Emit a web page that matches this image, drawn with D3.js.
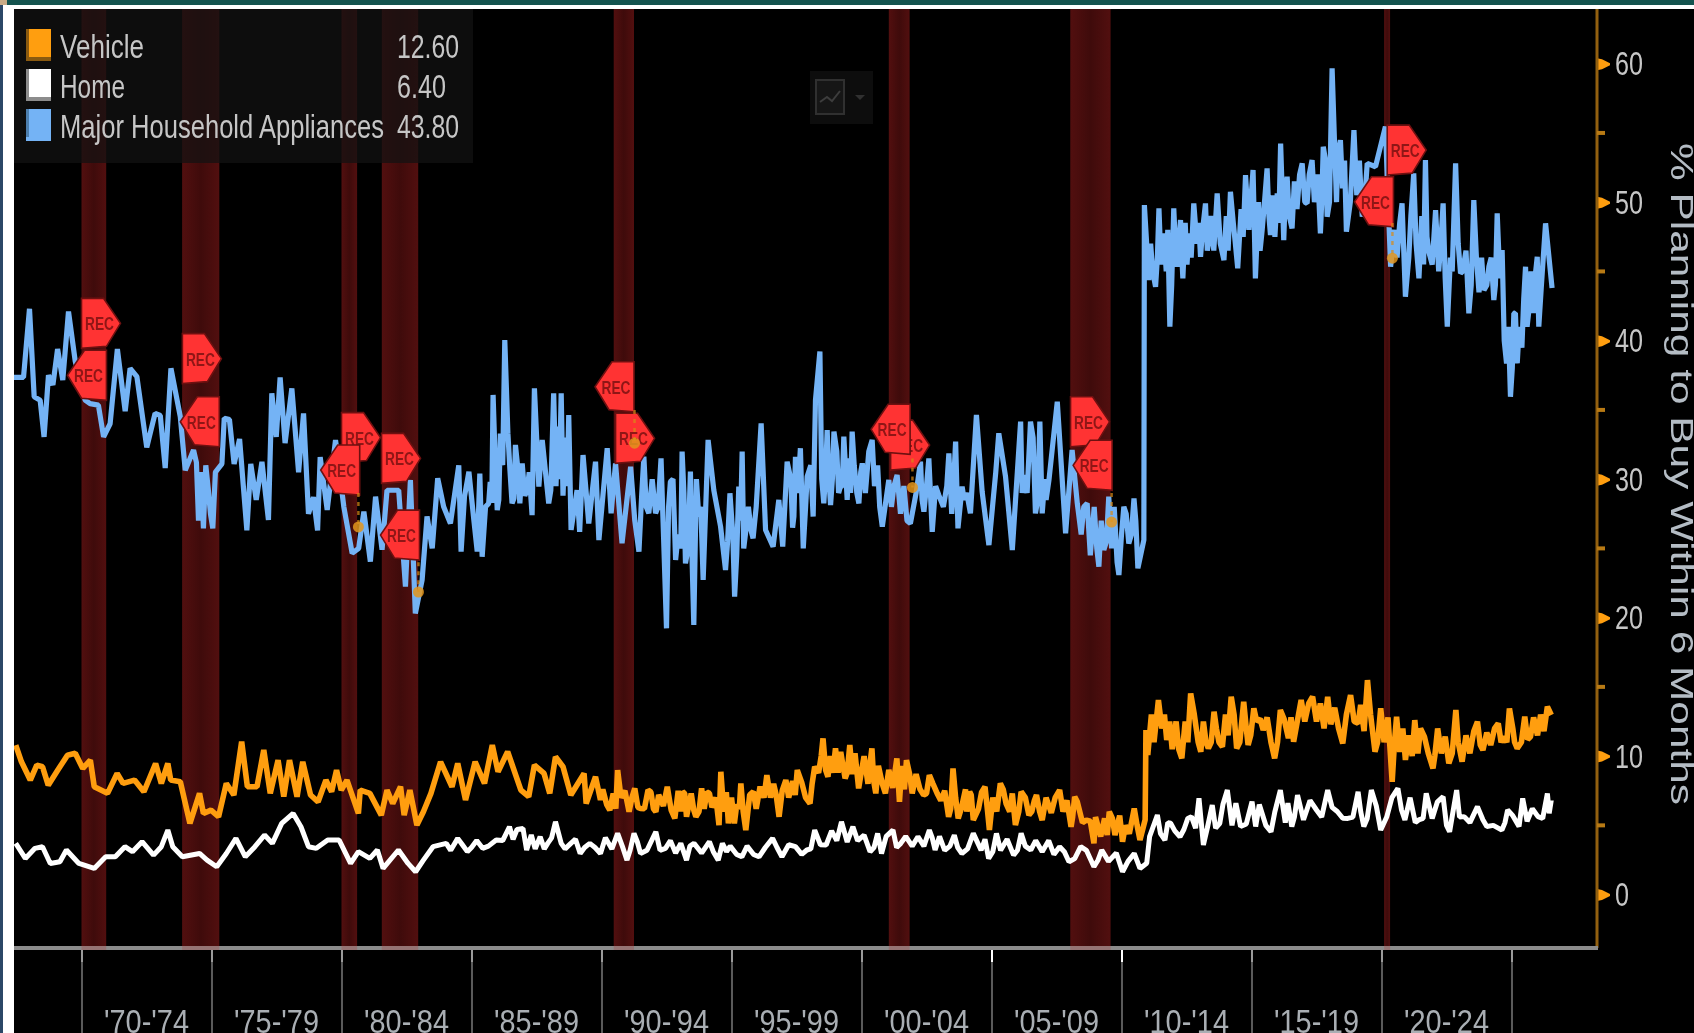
<!DOCTYPE html>
<html>
<head>
<meta charset="utf-8">
<script src="https://cdn.jsdelivr.net/npm/d3@7"></script>
<style>
    html, body { margin: 0; padding: 0; background: #000; overflow: hidden; }
    svg { display: block; filter: blur(0.6px); }
    text { font-family: "Liberation Sans", sans-serif; }
</style>
</head>
<body>
<div id="chart"></div>
<script>
// [year, value]
const homeSeries = [[1967.47,3.7],[1967.84,2.61],[1968.21,3.34],[1968.5,3.46],[1968.8,2.25],[1969.17,2.37],[1969.42,3.22],[1969.9,2.25],[1970.49,1.89],[1970.93,2.73],[1971.3,2.73],[1971.67,3.46],[1971.96,3.1],[1972.33,3.82],[1972.77,2.85],[1973.07,3.46],[1973.32,4.66],[1973.51,3.46],[1973.88,2.73],[1974.54,2.97],[1974.83,2.49],[1975.2,2.01],[1975.57,2.97],[1975.94,4.06],[1976.3,2.73],[1976.67,3.46],[1977.04,4.3],[1977.34,3.7],[1977.7,5.14],[1978.14,5.86],[1978.44,4.9],[1978.73,3.46],[1979.03,3.34],[1979.47,3.94],[1979.91,3.94],[1980.35,2.25],[1980.65,3.1],[1981.09,2.61],[1981.38,3.22],[1981.6,1.89],[1982.19,3.22],[1982.56,2.25],[1982.85,1.65],[1983.15,2.49],[1983.52,3.46],[1984.03,3.7],[1984.47,4.06],[1984.84,3.1],[1985.43,3.34],[1985.95,3.94],[1986.46,4.9],[1986.98,4.78],[1987.12,3.22],[1987.64,4.18],[1987.93,3.7],[1988.23,5.26],[1988.45,3.7],[1988.82,3.7],[1989.18,2.97],[1989.55,3.7],[1989.96,2.97],[1990.62,4.42],[1990.98,2.49],[1991.25,4.42],[1991.5,2.97],[1992.09,4.54],[1992.46,3.34],[1993.27,2.49],[1993.56,3.7],[1994.15,3.82],[1994.49,2.49],[1994.81,3.1],[1995.4,2.73],[1996.06,2.73],[1996.58,4.06],[1996.94,2.73],[1997.46,3.46],[1997.9,3.22],[1998.2,4.66],[1998.64,3.58],[1999.23,5.26],[1999.67,4.9],[2000.33,3.1],[2000.62,4.42],[2000.77,2.97],[2001.21,4.66],[2001.51,3.7],[2002.17,4.18],[2002.61,4.66],[2002.83,3.22],[2003.57,4.3],[2003.86,2.97],[2004.3,4.42],[2004.89,2.61],[2005.19,4.42],[2005.85,2.85],[2006.14,4.42],[2006.51,3.22],[2007.62,3.46],[2007.98,2.37],[2008.43,3.46],[2008.94,2.01],[2009.24,3.22],[2010.04,1.65],[2010.49,2.97],[2010.71,1.89],[2010.97,2.26],[2011.08,4.18],[2011.38,5.75],[2011.67,3.94],[2011.89,5.15],[2012.25,4.18],[2012.69,5.63],[2012.98,6.95],[2013.15,3.58],[2013.49,6.47],[2013.78,5.15],[2014.07,7.55],[2014.58,4.92],[2015.02,6.71],[2015.16,4.92],[2015.75,4.54],[2016.11,7.55],[2016.55,4.92],[2016.77,7.19],[2017.5,6.11],[2017.93,7.55],[2018.51,5.51],[2019.1,7.43],[2019.32,4.92],[2019.61,7.55],[2019.97,4.66],[2020.63,7.67],[2020.77,6.11],[2021.43,5.39],[2021.72,7.31],[2022.37,7.07],[2022.62,4.54],[2022.89,7.55],[2023.18,5.63],[2023.69,6.35],[2024.05,4.92],[2024.63,4.66],[2024.85,6.11],[2025.29,4.92],[2025.43,6.95],[2026.02,5.63],[2026.38,7.31],[2026.45,5.87],[2026.53,6.83]];
// upper and lower edge of the thick white band, where the monthly swings merge
const homeDense = [[1984.2,3.2],[1984.65,3.6],[1985.0,3.4],[1985.2,3.9],[1985.65,3.5],[1986.2,3.9],[1986.6,4],[1986.75,4.7],[1987.3,4.3],[1987.45,3.3],[1987.8,3.3],[1988.08,4.1],[1988.6,3.3],[1989.0,4],[1989.35,3.4],[1989.75,3.4],[1990.15,4.1],[1990.4,3.3],[1990.8,3.5],[1991.1,3.2],[1991.38,3.8],[1991.75,3.2],[1992.25,3.2],[1992.65,3.9],[1992.85,3],[1993.05,3.7],[1993.4,3.5],[1993.85,3],[1994.3,3.1],[1994.65,3.7],[1994.95,3.5],[1995.2,2.9],[1995.6,3.5],[1995.85,2.9],[1996.3,3.4],[1996.75,3.4],[1997.2,3.6],[1997.7,2.9],[1998.05,3.3],[1998.42,3.6],[1998.85,4.6],[1999.05,3.9],[1999.45,3.8],[1999.85,3.9],[2000.1,4.3],[2000.48,3.4],[2000.95,4.2],[2001.35,3.4],[2001.7,4.2],[2001.95,3.5],[2002.4,3.5],[2002.72,4.1],[2003.0,4.2],[2003.2,3.2],[2003.4,3.5],[2003.7,3.4],[2004.08,3.3],[2004.6,3.2],[2004.75,4],[2005.05,3.1],[2005.35,3.2],[2005.6,4],[2006.0,3.2],[2006.3,3.5],[2006.7,3.9],[2006.95,3.1],[2007.2,3.9],[2007.4,2.9],[2007.8,3.1],[2008.2,2.6],[2008.65,3.2],[2009.1,2.5],[2009.5,2.4],[2009.8,3],[2010.25,2.4],[2011.5,4.4],[2011.78,5.2],[2012.05,4.6],[2012.4,4.7],[2012.55,5.5],[2012.85,4.8],[2013.3,4.8],[2013.62,4.8],[2013.9,6.5],[2014.25,5],[2014.4,6.6],[2014.8,5.1],[2015.3,6.5],[2015.55,5],[2015.9,6],[2016.3,5.2],[2016.4,6.6],[2016.65,5.6],[2017.0,5.4],[2017.25,6.8],[2017.7,5.6],[2018.1,6.3],[2018.3,6],[2018.7,5.5],[2018.9,5.6],[2019.2,6],[2019.45,5.5],[2019.8,6.4],[2020.2,5.6],[2020.4,7],[2020.9,5.4],[2021.1,7],[2021.3,5.2],[2021.6,5.5],[2021.95,5.5],[2022.15,6.7],[2022.5,5],[2023.0,5.6],[2023.4,5.2],[2023.9,5.4],[2024.3,5],[2024.75,5.2],[2025.05,5.7],[2025.6,5.3],[2025.8,6.2],[2026.2,5.5]];

const vehicleSeries = [[1967.47,10.8],[1967.69,9.59],[1968.03,8.27],[1968.28,9.35],[1968.5,9.23],[1968.72,7.9],[1969.09,8.99],[1969.46,10.07],[1969.76,10.2],[1970.05,9.11],[1970.34,9.71],[1970.49,7.79],[1971.0,7.31],[1971.37,8.75],[1971.6,8.03],[1972.04,8.27],[1972.4,7.43],[1972.85,9.47],[1973.07,8.03],[1973.32,9.47],[1973.43,8.27],[1973.8,8.15],[1974.17,5.14],[1974.54,7.31],[1974.69,5.86],[1974.98,6.1],[1975.27,5.62],[1975.57,8.03],[1975.86,7.19],[1976.16,11.04],[1976.38,7.79],[1976.75,7.79],[1977.01,10.44],[1977.26,7.31],[1977.56,9.71],[1977.78,7.07],[1978.0,9.71],[1978.29,7.07],[1978.51,9.59],[1978.81,7.19],[1979.1,6.7],[1979.4,8.27],[1979.62,7.43],[1979.81,8.99],[1979.99,7.55],[1980.21,8.27],[1980.65,5.86],[1980.72,7.55],[1981.09,7.31],[1981.53,5.74],[1981.75,7.55],[1981.97,6.58],[1982.27,7.79],[1982.41,5.74],[1982.63,7.55],[1982.9,5.02],[1983.15,5.98],[1983.44,7.31],[1983.81,9.59],[1984.25,7.79],[1984.47,9.47],[1984.77,6.83],[1985.14,9.59],[1985.5,8.03],[1985.8,10.8],[1986.02,8.87],[1986.39,10.32],[1986.9,7.55],[1987.2,7.07],[1987.42,9.35],[1987.79,8.75],[1988.01,7.31],[1988.23,9.95],[1988.52,9.23],[1988.82,7.19],[1989.33,8.75],[1989.41,6.58],[1989.77,8.51],[1989.96,6.83],[1990.32,6.1],[1990.62,8.99],[1991.06,5.98],[1991.28,7.67],[1991.5,6.22],[1991.79,7.55],[1992.09,5.98],[1992.53,7.79],[1992.82,5.5],[1993.12,7.43],[1993.27,5.62],[1993.63,5.62],[1993.85,7.67],[1994.15,7.31],[1994.52,5.02],[1994.59,8.87],[1994.88,5.14],[1995.11,5.14],[1995.36,8.03],[1995.55,4.66],[1995.84,7.43],[1996.36,8.63],[1996.72,7.19],[1996.83,5.62],[1997.09,8.27],[1997.53,8.99],[1998.02,6.58],[1998.2,9.23],[1998.52,11.28],[1998.71,8.51],[1999.0,10.56],[1999.37,8.39],[1999.55,10.8],[1999.89,7.67],[2000.4,10.56],[2000.55,7.31],[2000.92,7.31],[2001.36,9.83],[2001.46,6.7],[2001.73,9.71],[2001.95,7.31],[2002.39,7.19],[2002.61,8.63],[2002.91,7.31],[2003.35,5.62],[2003.52,9.11],[2003.72,5.5],[2004.16,7.43],[2004.3,5.38],[2004.75,7.79],[2004.92,4.66],[2005.34,8.03],[2005.56,6.58],[2005.92,5.02],[2006.14,7.43],[2006.44,5.74],[2006.73,7.19],[2006.95,5.38],[2007.62,7.55],[2008.06,4.9],[2008.2,7.07],[2008.65,5.38],[2008.94,3.7],[2009.53,5.98],[2009.82,4.9],[2010.04,3.82],[2010.49,6.22],[2010.71,3.94],[2010.91,5.4],[2010.94,11.88],[2011.01,10.08],[2011.42,14.05],[2011.74,11.16],[2012.32,9.84],[2012.66,14.53],[2013.05,10.32],[2013.34,10.56],[2013.56,13.21],[2013.88,10.68],[2014.22,14.29],[2014.43,10.56],[2014.7,13.93],[2014.87,10.8],[2015.09,13.45],[2015.45,11.88],[2015.89,9.84],[2016.11,13.33],[2016.62,11.04],[2016.91,14.05],[2017.35,14.29],[2017.79,12.0],[2017.93,14.29],[2018.51,10.92],[2018.81,14.41],[2019.1,12.37],[2019.46,15.49],[2019.75,10.32],[2019.97,13.45],[2020.41,8.15],[2020.58,12.85],[2020.92,9.72],[2021.28,12.6],[2021.65,11.4],[2021.98,9.12],[2022.16,12.0],[2022.59,9.48],[2022.86,13.33],[2023.1,9.6],[2023.69,12.49],[2023.9,10.44],[2024.49,12.37],[2024.71,11.4],[2024.92,13.45],[2025.22,10.56],[2025.51,12.85],[2025.73,11.4],[2026.38,13.57],[2026.53,12.97]];
const vehicleDense = [[1990.05,7.6],[1990.2,6.5],[1990.45,7.3],[1990.55,6.2],[1990.75,7],[1990.9,7.5],[1991.17,7],[1991.4,6.3],[1991.65,6.2],[1991.9,7.4],[1992.0,6.2],[1992.2,7.2],[1992.38,6.4],[1992.68,6.1],[1992.95,7.5],[1993.05,6],[1993.2,7.3],[1993.45,7.3],[1993.55,6.1],[1993.75,6],[1993.95,6.2],[1994.05,7.4],[1994.25,6.3],[1994.4,7],[1994.7,6],[1994.8,7.4],[1995.0,7],[1995.2,6.5],[1995.3,6.2],[1995.45,6],[1995.7,7.2],[1995.95,6.2],[1996.1,7.8],[1996.25,7],[1996.5,7],[1996.62,8],[1996.95,7.5],[1997.2,7],[1997.35,8.2],[1997.45,7.2],[1997.7,8.1],[1997.85,7],[1998.1,8],[1998.35,8.8],[1998.45,10],[1998.62,9],[1998.8,10],[1998.9,8.8],[1999.1,8.8],[1999.2,10.3],[1999.45,8.8],[1999.65,8.7],[1999.75,10.2],[1999.98,8.7],[2000.1,10],[2000.25,8],[2000.33,9.5],[2000.47,8.2],[2000.65,9.3],[2000.8,8],[2001.05,9],[2001.2,7.7],[2001.55,9.3],[2001.65,7.6],[2001.85,8.7],[2002.1,8.7],[2002.25,7.6],[2002.5,7.3],[2002.75,8],[2003.05,6.8],[2003.2,7.5],[2003.43,6.2],[2003.62,7],[2003.85,6.3],[2004.0,7.6],[2004.05,6],[2004.22,7.2],[2004.5,6.2],[2004.62,7.4],[2004.85,6],[2005.05,7],[2005.2,6],[2005.45,7.6],[2005.7,6],[2005.8,7.3],[2006.05,6],[2006.3,7],[2006.55,6],[2006.65,6.8],[2006.85,6],[2007.1,7],[2007.3,5.9],[2007.45,7],[2007.75,6],[2007.9,6.8],[2008.12,5.6],[2008.3,6.7],[2008.5,5.2],[2008.8,5.3],[2009.0,5.6],[2009.2,4.2],[2009.35,5.5],[2009.45,4.3],[2009.65,5.5],[2009.75,4.3],[2009.93,5.7],[2010.15,5],[2010.3,4.4],[2010.6,5],[2011.15,13],[2011.25,11],[2011.55,12],[2011.65,13],[2011.85,12.5],[2011.95,10.5],[2012.1,12.5],[2012.2,10.5],[2012.45,12.5],[2012.55,11],[2012.8,13],[2012.95,11],[2013.15,12.5],[2013.25,11],[2013.45,11],[2013.65,12],[2013.75,11],[2014.0,13],[2014.1,11.5],[2014.33,13],[2014.55,11],[2014.8,12],[2014.97,11.5],[2015.2,12.5],[2015.33,12.7],[2015.6,12.8],[2015.75,11],[2016.0,11],[2016.25,12.7],[2016.42,11.3],[2016.52,12.8],[2016.75,12.4],[2017.05,12.5],[2017.2,13.8],[2017.5,12.5],[2017.65,13.8],[2018.05,12.3],[2018.2,13.5],[2018.35,12],[2018.65,13],[2018.95,12.5],[2019.2,13.7],[2019.33,11.8],[2019.58,13],[2019.85,11],[2020.1,11],[2020.25,12.8],[2020.5,11],[2020.7,10.3],[2020.82,12],[2021.05,11.5],[2021.18,10],[2021.4,10.2],[2021.5,12],[2021.8,10.2],[2022.05,10],[2022.3,10.2],[2022.45,11.4],[2022.72,10.2],[2022.95,11],[2023.25,11.5],[2023.4,10.2],[2023.55,11.8],[2023.8,10.8],[2024.05,11.7],[2024.2,10.8],[2024.35,12],[2024.6,11],[2024.82,11],[2025.05,12],[2025.12,11],[2025.38,11],[2025.62,11.2],[2025.85,12.8],[2026.0,11.5],[2026.12,13],[2026.25,11.8]];

const applianceSeries = [[1967.38,37.35],[1967.77,37.35],[1968.0,42.3],[1968.18,35.95],[1968.41,35.7],[1968.56,33.05],[1968.73,37.5],[1968.9,36.8],[1969.08,39.4],[1969.28,37.15],[1969.5,42.1],[1969.76,38.5],[1970.14,35.7],[1970.33,35.45],[1970.65,35.35],[1970.85,33.05],[1971.1,34.0],[1971.38,39.4],[1971.68,34.9],[1971.87,38.0],[1972.13,37.4],[1972.51,32.3],[1972.83,34.75],[1973.03,34.6],[1973.22,30.8],[1973.44,38.0],[1973.8,34.5],[1973.99,30.65],[1974.31,32.1],[1974.69,26.45],[1974.88,29.2],[1975.05,26.45],[1975.4,31.1],[1975.49,34.4],[1975.69,34.3],[1975.87,31.1],[1976.08,32.9],[1976.36,26.3],[1976.51,31.1],[1976.72,28.5],[1976.94,31.25],[1977.19,27.05],[1977.32,36.2],[1977.49,33.05],[1977.64,37.35],[1977.83,32.6],[1978.09,36.55],[1978.35,30.5],[1978.54,34.75],[1978.73,27.5],[1978.92,28.7],[1979.08,26.3],[1979.18,31.6],[1979.45,27.77],[1979.77,32.83],[1980.09,28.0],[1980.41,24.65],[1980.66,25.0],[1980.86,27.65],[1981.11,24.05],[1981.31,28.74],[1981.56,24.9],[1981.75,29.2],[1982.2,29.2],[1982.46,22.24],[1982.65,29.94],[1982.84,20.3],[1983.1,22.72],[1983.29,27.3],[1983.49,25.0],[1983.7,30.06],[1983.93,28.0],[1984.19,26.8],[1984.51,31.0],[1984.6,24.77],[1984.73,28.74],[1984.9,30.54],[1985.09,27.05],[1985.22,24.77],[1985.32,30.4],[1985.41,24.4],[1985.54,28.0],[1985.66,28.25],[1985.83,36.08],[1985.99,27.77],[1986.11,33.3],[1986.28,40.05],[1986.4,33.3],[1986.56,28.25],[1986.69,32.47],[1986.86,28.25],[1986.95,31.14],[1987.14,29.2],[1987.33,27.4],[1987.42,36.56],[1987.59,29.46],[1987.72,32.83],[1987.97,28.25],[1988.16,36.2],[1988.32,33.8],[1988.45,36.2],[1988.74,34.63],[1988.83,26.33],[1989.06,29.2],[1989.16,26.2],[1989.29,31.74],[1989.51,26.8],[1989.77,31.26],[1989.9,25.6],[1990.22,32.23],[1990.37,27.53],[1990.54,31.14],[1990.79,25.37],[1991.12,30.9],[1991.44,24.77],[1991.63,31.62],[1991.82,27.53],[1992.08,27.53],[1992.29,31.5],[1992.5,19.23],[1992.65,29.82],[1992.85,24.16],[1993.1,31.99],[1993.23,23.92],[1993.42,30.54],[1993.55,19.47],[1993.74,27.3],[1993.91,22.72],[1994.1,32.83],[1994.32,29.2],[1994.58,26.57],[1994.77,23.44],[1994.94,28.98],[1995.12,21.52],[1995.28,29.46],[1995.41,31.99],[1995.54,26.09],[1995.83,25.73],[1996.14,34.03],[1996.31,26.33],[1996.6,25.13],[1996.82,28.5],[1996.97,25.13],[1997.14,31.26],[1997.4,27.3],[1997.46,31.62],[1997.65,32.23],[1997.76,25.0],[1997.91,30.18],[1998.14,27.3],[1998.23,35.72],[1998.4,39.21],[1998.55,28.25],[1998.68,33.55],[1998.81,28.13],[1998.94,33.43],[1999.19,29.46],[1999.32,33.07],[1999.45,28.5],[1999.64,33.43],[1999.9,28.25],[2000.03,31.14],[2000.41,32.83],[2000.8,26.57],[2001.05,29.94],[2001.37,30.3],[2001.88,26.8],[2002.27,31.26],[2002.4,27.65],[2002.59,31.5],[2002.72,26.2],[2002.97,28.86],[2003.36,31.86],[2003.62,32.71],[2003.71,26.45],[2003.87,29.46],[2004.19,27.53],[2004.42,34.63],[2004.64,29.1],[2004.9,25.24],[2005.16,30.42],[2005.28,33.31],[2005.54,30.18],[2005.8,24.88],[2006.12,34.15],[2006.25,30.3],[2006.5,34.15],[2006.69,27.53],[2006.86,34.15],[2006.95,27.53],[2007.21,29.94],[2007.53,35.59],[2007.85,26.09],[2008.1,32.1],[2008.3,28.25],[2008.68,28.25],[2009.13,23.68],[2009.32,24.88],[2009.51,28.73],[2009.9,23.08],[2010.09,28.01],[2010.28,25.36],[2010.48,28.61],[2010.63,23.56],[2010.86,25.6],[2010.88,49.79],[2011.05,44.38],[2011.31,43.89],[2011.44,49.55],[2011.63,47.75],[2011.86,41.01],[2012.01,49.55],[2012.14,45.34],[2012.27,48.71],[2012.36,44.5],[2012.59,47.75],[2012.78,49.91],[2013.04,46.06],[2013.23,49.91],[2013.36,47.14],[2013.68,50.63],[2013.94,45.82],[2014.19,50.75],[2014.47,45.22],[2014.77,51.96],[2015.06,52.32],[2015.15,44.5],[2015.41,47.99],[2015.6,52.44],[2015.73,47.62],[2015.99,50.63],[2016.12,54.24],[2016.24,47.26],[2016.37,51.84],[2016.56,48.11],[2016.95,52.8],[2017.14,49.91],[2017.33,53.04],[2017.65,47.75],[2017.76,54.0],[2017.91,48.95],[2018.1,59.66],[2018.19,54.48],[2018.42,54.48],[2018.65,47.87],[2018.94,55.21],[2019.26,48.95],[2019.45,52.8],[2019.77,52.56],[2020.15,55.45],[2020.35,45.34],[2020.79,49.91],[2020.92,43.17],[2021.24,52.08],[2021.44,44.5],[2021.69,53.04],[2021.82,46.42],[2022.08,49.43],[2022.37,49.91],[2022.53,41.01],[2022.85,52.8],[2023.04,44.86],[2023.36,41.97],[2023.55,50.15],[2023.94,43.65],[2024.13,45.34],[2024.32,42.93],[2024.45,49.19],[2024.64,46.54],[2024.81,38.36],[2024.96,35.95],[2025.09,41.97],[2025.22,38.36],[2025.54,45.34],[2025.67,42.21],[2025.99,46.06],[2026.05,41.01],[2026.31,48.47],[2026.56,43.8]];
const applianceDense = [[1974.42,31.2],[1974.5,27],[1974.6,30.5],[1974.78,31],[1974.96,27.5],[1975.15,30.5],[1985.72,29.8],[1985.78,28.3],[1985.9,32],[1986.05,28.5],[1986.2,31],[1986.48,30.6],[1986.63,28.6],[1986.77,31],[1987.05,28.8],[1987.22,30.5],[1988.05,29.2],[1988.25,29.5],[1988.38,30],[1988.52,28.8],[1988.6,33],[1988.68,29.5],[1991.28,27],[1991.55,29],[1991.72,28],[1991.95,30],[1992.18,28],[1992.58,28],[1992.75,30],[1992.95,26],[1993.05,25],[1993.17,29],[1993.33,25],[1993.48,24.5],[1993.65,30],[1993.82,28],[1994.85,25.5],[1995.05,26],[1995.2,24.5],[1995.35,27],[1995.47,25],[1995.65,28],[1995.75,26.3],[1995.95,28],[1997.05,28],[1997.28,30],[1997.35,26.5],[1997.55,29],[1997.85,28],[1998.05,31],[1998.47,30],[1998.62,30.5],[1998.74,30.2],[1998.88,30],[1999.05,32],[1999.12,29],[1999.26,29.5],[1999.38,31],[1999.52,31.5],[1999.58,29],[1999.72,31],[1999.82,29],[1999.97,30.5],[2000.15,29],[2000.28,32],[2000.5,29.5],[2000.62,31],[2000.7,28],[2001.15,28],[2001.25,29.5],[2001.5,27.5],[2001.63,29.5],[2001.75,27],[2002.1,29],[2002.33,28.5],[2002.5,29.5],[2002.85,29.5],[2003.15,28],[2003.28,29.5],[2003.47,27.5],[2003.55,30],[2003.95,28.5],[2004.05,29],[2006.18,29],[2006.37,29],[2006.6,33],[2006.78,28.5],[2007.05,30],[2007.1,28.5],[2008.45,26],[2008.55,28],[2008.8,24.5],[2008.95,28],[2009.05,25],[2009.22,27],[2009.42,25.5],[2009.62,25],[2009.72,28],[2009.83,24],[2010.0,26],[2010.18,27.5],[2010.38,26],[2010.55,27],[2011.12,47],[2011.2,45],[2011.38,46],[2011.52,45.5],[2011.72,45],[2011.78,48],[2011.93,44],[2012.07,47],[2012.2,47],[2012.31,46.5],[2012.45,48.5],[2012.52,45.5],[2012.68,46],[2012.9,47],[2012.97,48.5],[2013.12,48],[2013.3,46.5],[2013.45,49],[2013.55,46.5],[2013.8,47],[2014.03,49],[2014.1,46.5],[2014.3,48.5],[2014.38,47],[2014.6,49.5],[2014.68,47.5],[2014.9,48],[2014.97,50],[2015.1,49],[2015.27,50],[2015.33,46.5],[2015.5,50],[2015.67,49],[2015.82,50.5],[2015.9,47.5],[2016.05,48.5],[2016.3,50.5],[2016.45,49],[2016.65,51.5],[2016.75,49.5],[2016.85,52],[2017.05,50],[2017.22,52],[2017.42,50],[2017.55,52],[2017.7,50],[2017.85,53],[2018.0,50],[2018.27,50],[2018.32,53.5],[2018.5,51],[2018.58,53],[2018.8,50],[2019.05,50.5],[2019.15,53],[2019.35,50],[2020.5,48],[2020.6,46],[2020.7,48.5],[2021.05,46],[2021.13,49],[2021.33,47],[2021.55,49],[2021.62,45.5],[2021.75,47.5],[2021.95,45.5],[2022.2,45],[2022.28,47],[2022.45,44.5],[2022.65,46],[2022.72,45],[2022.95,47],[2023.12,45],[2023.25,46.5],[2023.45,44],[2023.65,46],[2023.75,43.5],[2023.85,46],[2024.05,44],[2024.22,46],[2024.38,44],[2024.55,44.5],[2024.72,40],[2024.88,41],[2025.03,38],[2025.15,42],[2025.3,41],[2025.4,39.5],[2025.47,43],[2025.6,41],[2025.75,45],[2025.85,42],[2025.93,45],[2026.15,44]];

const recessions = [[1970.0,1970.95],[1973.87,1975.3],[1980.0,1980.6],[1981.55,1982.95],[1990.47,1991.25],[2001.05,2001.85],[2008.03,2009.58],[2020.1,2020.33]];

// flag markers: [year, value, direction], later ones sit on top
const recFlags = [[1970.0,41.25,1],[1970.96,37.5,-1],[1973.88,38.7,1],[1975.3,34.15,-1],[1980.0,33.0,1],[1980.7,30.66,-1],[1981.54,31.5,1],[1983.0,25.96,-1],[1991.25,36.67,-1],[1990.54,32.95,1],[2001.12,32.46,1],[2001.87,33.6,-1],[2008.04,34.14,1],[2009.64,31.0,-1],[2020.22,53.76,1],[2020.46,50.03,-1]];

// orange dots under the flags: [year, value, value of the flag above]
const recDots = [[1980.65,26.55,29],[1982.96,21.85,24],[1991.27,32.6,35],[2001.96,29.4,31.5],[2009.62,26.9,29],[2020.42,45.96,48.5]];

const legendNames = ["Vehicle", "Home", "Major Household Appliances"];
const legendValues = ["12.60", "6.40", "43.80"];
const yMajorTicks = [0, 10, 20, 30, 40, 50, 60];
const yMinorTicks = [5, 15, 25, 35, 45, 55];
const xTicks = [1970, 1975, 1980, 1985, 1990, 1995, 2000, 2005, 2010, 2015, 2020, 2025];
const xLabels = ["'70-'74", "'75-'79", "'80-'84", "'85-'89", "'90-'94", "'95-'99", "'00-'04", "'05-'09", "'10-'14", "'15-'19", "'20-'24"];
const yTitle = "% Planning to Buy Within 6 Months";

const width = 1694, height = 1033;
const plotLeft = 14, plotTop = 9, plotRight = 1597, plotBottom = 948;
const orange = "#ff9e0f", blue = "#74b3f5";

const x = d3.scaleLinear().domain([1970, 2025]).range([81.5, 1511.5]);
const y = d3.scaleLinear().domain([0, 60]).range([894.6, 63.7]);

const svg = d3.select("#chart").append("svg")
    .attr("width", width)
    .attr("height", height);

const defs = svg.append("defs");
defs.append("clipPath").attr("id", "plot-clip")
    .append("rect")
    .attr("x", plotLeft).attr("y", plotTop)
    .attr("width", plotRight - plotLeft).attr("height", plotBottom - plotTop);

const bandGrad = defs.append("linearGradient").attr("id", "band-grad");
bandGrad.append("stop").attr("offset", "0%").attr("stop-color", "#520f0f");
bandGrad.append("stop").attr("offset", "50%").attr("stop-color", "#3f0b0b");
bandGrad.append("stop").attr("offset", "100%").attr("stop-color", "#520f0f");

svg.append("rect").attr("width", width).attr("height", height).attr("fill", "#000");

// window frame
svg.append("rect").attr("width", width).attr("height", 5).attr("fill", "#14544f");
svg.append("rect").attr("y", 5).attr("width", width).attr("height", 4).attr("fill", "#fff");
svg.append("rect").attr("y", 5).attr("width", plotLeft).attr("height", height - 5).attr("fill", "#fff");
svg.append("rect").attr("y", 5).attr("width", 3).attr("height", height - 5).attr("fill", "#2b4767");
svg.append("rect").attr("width", 7).attr("height", 5).attr("fill", "#c9ab86");

// recession bands
svg.append("g").selectAll("rect")
    .data(recessions)
    .join("rect")
    .attr("x", d => x(d[0]))
    .attr("y", plotTop)
    .attr("width", d => x(d[1]) - x(d[0]))
    .attr("height", plotBottom - plotTop)
    .attr("fill", "url(#band-grad)");

// series, the dense edge points merged in by date
const line = d3.line().x(d => x(d[0])).y(d => y(d[1]));
const plot = svg.append("g").attr("clip-path", "url(#plot-clip)");
[
    [applianceSeries, applianceDense, blue, 5.2],
    [vehicleSeries, vehicleDense, orange, 5.6],
    [homeSeries, homeDense, "#fff", 5]
].forEach(([data, dense, color, strokeWidth]) => {
    plot.append("path")
        .datum(d3.merge([data, dense]).sort((a, b) => a[0] - b[0]))
        .attr("fill", "none")
        .attr("stroke", color)
        .attr("stroke-width", strokeWidth)
        .attr("stroke-linejoin", "bevel")
        .attr("d", line);
});

// REC flags
const flagShape = "M0,-25L22,-25L39,0L25,23L0,25Z";
const flags = svg.append("g").selectAll("g")
    .data(recFlags)
    .join("g")
    .attr("transform", d => `translate(${x(d[0])},${y(d[1])})`);
flags.append("path")
    .attr("d", flagShape)
    .attr("transform", d => `scale(${d[2]},1)`)
    .attr("fill", "#ff3333")
    .attr("stroke", "#6e1010")
    .attr("stroke-width", 1.6);
flags.append("text")
    .attr("x", d => d[2] * 18)
    .attr("y", 7)
    .attr("text-anchor", "middle")
    .attr("font-size", 19)
    .attr("font-weight", "bold")
    .attr("textLength", 29)
    .attr("lengthAdjust", "spacingAndGlyphs")
    .attr("fill", "#8f1616")
    .text("REC");

// dots and their dotted stems
const dots = svg.append("g");
dots.selectAll("line")
    .data(recDots)
    .join("line")
    .attr("x1", d => x(d[0])).attr("x2", d => x(d[0]))
    .attr("y1", d => y(d[2])).attr("y2", d => y(d[1]))
    .attr("stroke", "#d98a16")
    .attr("stroke-opacity", 0.7)
    .attr("stroke-width", 2.5)
    .attr("stroke-dasharray", "4 5");
dots.selectAll("circle")
    .data(recDots)
    .join("circle")
    .attr("cx", d => x(d[0]))
    .attr("cy", d => y(d[1]))
    .attr("r", 5.5)
    .attr("fill", "#e3951c")
    .attr("fill-opacity", 0.85);

// legend
const legendY = [45, 85, 125];
svg.append("rect")
    .attr("x", plotLeft).attr("y", plotTop)
    .attr("width", 459).attr("height", 154)
    .attr("fill", "#121212").attr("fill-opacity", 0.72);
const swatchColors = [[orange, "#8a5a10"], ["#fff", "#8c8c8c"], [blue, "#4d7fae"]];
const legendRows = svg.append("g").selectAll("g")
    .data(legendNames)
    .join("g")
    .attr("transform", (d, i) => `translate(0,${legendY[i]})`);
legendRows.append("rect")
    .attr("x", 26).attr("y", -16).attr("width", 25).attr("height", 32)
    .attr("fill", (d, i) => swatchColors[i][0]);
legendRows.append("rect")
    .attr("x", 26).attr("y", -16).attr("width", 3).attr("height", 32)
    .attr("fill", (d, i) => swatchColors[i][1]);
legendRows.append("rect")
    .attr("x", 26).attr("y", 12).attr("width", 25).attr("height", 4)
    .attr("fill", (d, i) => i < 2 ? swatchColors[i][1] : swatchColors[i][0]);
const legendWidths = [84, 65, 324];
legendRows.append("text")
    .attr("x", 60).attr("y", 13)
    .attr("font-size", 33)
    .attr("textLength", (d, i) => legendWidths[i])
    .attr("lengthAdjust", "spacingAndGlyphs")
    .attr("fill", "#c6c6c6")
    .text(d => d);
legendRows.append("text")
    .attr("x", 397).attr("y", 13)
    .attr("font-size", 33)
    .attr("textLength", (d, i) => i === 1 ? 49 : 62)
    .attr("lengthAdjust", "spacingAndGlyphs")
    .attr("fill", "#c6c6c6")
    .text((d, i) => legendValues[i]);

// toolbar icon in the middle of the plot
const tool = svg.append("g").attr("transform", "translate(810,71)");
tool.append("rect").attr("width", 63).attr("height", 53).attr("fill", "#0d0d0d");
tool.append("rect").attr("x", 6).attr("y", 9).attr("width", 28).attr("height", 34)
    .attr("fill", "#161616").attr("stroke", "#303030").attr("stroke-width", 2);
tool.append("path").attr("d", "M10,31L17,26L22,30L30,20")
    .attr("fill", "none").attr("stroke", "#3d3d3d").attr("stroke-width", 2);
tool.append("path").attr("d", "M45,24L55,24L50,29Z").attr("fill", "#303030");

// right axis
const yAxis = d3.axisRight(y).tickValues(yMajorTicks).tickSize(0).tickPadding(0).tickFormat(d3.format("d"));
const yAxisG = svg.append("g").attr("transform", `translate(${plotRight},0)`).call(yAxis);
yAxisG.select(".domain").remove();
svg.append("line")
    .attr("x1", plotRight).attr("x2", plotRight)
    .attr("y1", plotTop).attr("y2", plotBottom)
    .attr("stroke", "#93600f").attr("stroke-width", 3);
yAxisG.selectAll(".tick").append("path")
    .attr("d", "M0,-6L5,-5L13,-1L13,1L5,5L0,6Z")
    .attr("fill", orange);
yAxisG.selectAll(".tick text")
    .attr("x", 18)
    .attr("dy", "0.33em")
    .attr("font-size", 33)
    .attr("textLength", d => d === 0 ? 14 : 28)
    .attr("lengthAdjust", "spacingAndGlyphs")
    .attr("fill", "#c6c6c6");
svg.append("g").selectAll("rect")
    .data(yMinorTicks)
    .join("rect")
    .attr("x", plotRight)
    .attr("y", d => y(d) - 2)
    .attr("width", 8)
    .attr("height", 4)
    .attr("fill", "#b87a14");

svg.append("text")
    .attr("transform", "translate(1671,143) rotate(90)")
    .attr("font-size", 32)
    .attr("textLength", 662)
    .attr("lengthAdjust", "spacingAndGlyphs")
    .attr("fill", "#b4bcc4")
    .text(yTitle);

// bottom axis
const xAxis = d3.axisBottom(x).tickValues(xTicks).tickSize(85).tickFormat("");
const xAxisG = svg.append("g").attr("transform", `translate(0,${plotBottom})`).call(xAxis);
xAxisG.select(".domain").remove();
xAxisG.selectAll(".tick line").attr("stroke", "#5a5a5a").attr("stroke-width", 2);
xAxisG.selectAll(".tick").append("line")
    .attr("y1", 0).attr("y2", 14)
    .attr("stroke", d => d === 2005 || d === 2010 ? "#fff" : "#9a9a9a")
    .attr("stroke-width", 2);
svg.append("line")
    .attr("x1", plotLeft).attr("x2", plotRight + 1)
    .attr("y1", plotBottom).attr("y2", plotBottom)
    .attr("stroke", "#8c8c8c").attr("stroke-width", 4);
svg.append("g").selectAll("rect")
    .data(recessions)
    .join("rect")
    .attr("x", d => x(d[0]))
    .attr("y", plotBottom - 2)
    .attr("width", d => x(d[1]) - x(d[0]))
    .attr("height", 4)
    .attr("fill", "#b04040")
    .attr("fill-opacity", 0.3);

svg.append("g").selectAll("text")
    .data(xLabels)
    .join("text")
    .attr("x", (d, i) => (x(xTicks[i]) + x(xTicks[i + 1])) / 2)
    .attr("y", 1033)
    .attr("text-anchor", "middle")
    .attr("font-size", 33)
    .attr("textLength", 85)
    .attr("lengthAdjust", "spacingAndGlyphs")
    .attr("fill", "#a9aeb3")
    .text(d => d);
</script>
</body>
</html>
